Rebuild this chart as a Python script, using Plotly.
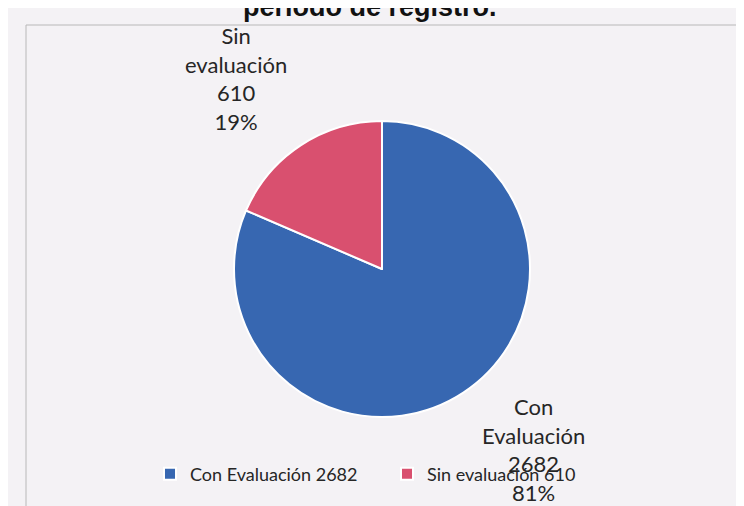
import plotly.graph_objects as go

categories = ["Con Evaluación", "Sin evaluación"]
values = [2682, 610]
colors = ["#3767b1", "#d9506f"]
title_text = "periodo de registro."

W, H = 744, 506
total = sum(values)
pcts = [round(v * 100 / total) for v in values]
legend_labels = [f"{c} {v}" for c, v in zip(categories, values)]

FONT = "Lato, 'Open Sans', sans-serif"

fig = go.Figure()
fig.add_trace(go.Pie(
    labels=legend_labels,
    values=values,
    sort=False,
    direction="clockwise",
    rotation=0,
    marker=dict(colors=colors, line=dict(color="white", width=2)),
    textinfo="none",
    hoverinfo="label+value+percent",
    domain=dict(x=[226 / W, 522 / W], y=[1 - 409 / H, 1 - 113 / H]),
))

# data labels (outside end), text built from data
label_pos = [(525, 441), (228, 71)]
for (c, v, p), (px, py) in zip(zip(categories, values, pcts), label_pos):
    words = c.split(" ")
    txt = "<br>".join(words + [str(v), f"{p}%"])
    fig.add_annotation(
        x=px / W, y=1 - py / H, xref="paper", yref="paper",
        text=txt, showarrow=False, align="center",
        xanchor="center", yanchor="middle",
        font=dict(family=FONT, size=22, color="#262626"),
    )

# title (only its lower part shows, as in the cropped reference)
fig.add_annotation(
    x=362 / W, y=1 + 1 / H, xref="paper", yref="paper",
    text=f"<b>{title_text}</b>", showarrow=False,
    xanchor="center", yanchor="middle",
    font=dict(family="'Liberation Sans', Arial, sans-serif", size=27, color="#111111"),
)

# chart frame
fig.add_shape(type="rect", xref="paper", yref="paper",
              x0=18 / W, x1=1.01, y0=-0.01, y1=1 - 17 / H,
              line=dict(color="#b8b8b8", width=1), fillcolor="rgba(0,0,0,0)",
              layer="below")

fig.update_layout(
    width=W, height=H,
    margin=dict(l=0, r=0, t=0, b=0),
    paper_bgcolor="#f4f2f5",
    plot_bgcolor="#f4f2f5",
    showlegend=True,
    legend=dict(orientation="h", x=142 / W, xanchor="left", y=1 - 466 / H, yanchor="middle",
                font=dict(family=FONT, size=18, color="#262626"),
                bgcolor="rgba(0,0,0,0)", itemsizing="constant",
                entrywidth=192, entrywidthmode="pixels", itemwidth=30),
)

fig.write_html("out.html")
